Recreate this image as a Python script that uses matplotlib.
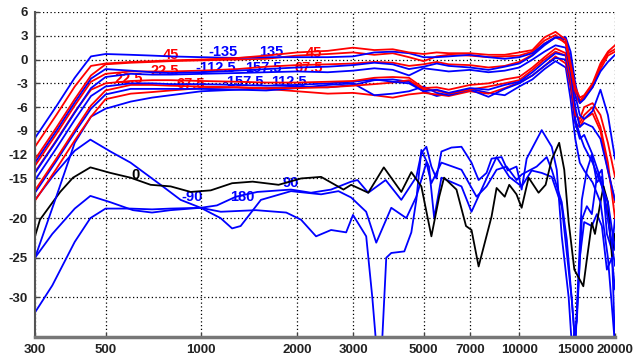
import matplotlib
matplotlib.use("Agg")
import matplotlib.pyplot as plt
from matplotlib.ticker import FixedLocator, NullLocator

plt.rcParams['font.family'] = ['Liberation Sans', 'DejaVu Sans']

# ---------------- data ----------------
F_TOP = [300, 350, 400, 450, 500, 600, 700, 800, 1000, 1300, 1600, 2000, 2500, 3000,
         3500, 4000, 4500, 5000, 5500, 6000, 7000, 8000, 9000, 10000, 11000, 12000,
         13000, 14000, 14500, 15000, 15500, 16000, 17000, 18000, 19000, 20000]

B1 = [-9.9, -5.9, -2.3, 0.4, 0.7, 0.6, 0.5, 0.4, 0.3, 0.2, 0.3, 0.3, 0.3, 0.4, 0.9, 1.0, 0.8, 0.3,
      0.3, 0.4, 0.6, 0.3, 0.1, 0.3, 0.8, 2.0, 2.8, 2.8, 1.0, -3.0, -5.5, -5.0, -3.5, -1.5, -0.3, 0.6]
R1 = [-11.0, -7.0, -3.4, -0.8, -0.5, -0.3, -0.2, -0.1, 0.0, 0.2, 0.5, 0.9, 1.1, 1.5, 1.2, 1.3, 0.9, 0.7,
      0.9, 0.8, 0.8, 0.6, 0.6, 0.9, 1.2, 2.8, 3.5, 2.5, -0.5, -3.5, -4.8, -4.5, -3.0, -0.5, 1.0, 1.8]
R2 = [-12.6, -8.6, -5.0, -2.0, -0.6, -0.4, -0.3, -0.2, -0.1, 0.0, 0.1, 0.5, 0.7, 0.9, 0.6, 0.8, 0.3, -0.2,
      0.4, 0.6, 0.5, 0.3, 0.4, 0.5, 1.0, 2.4, 3.1, 2.0, -1.0, -4.0, -5.2, -4.6, -3.2, -0.8, 0.8, 1.3]
B2 = [-13.0, -9.0, -5.4, -2.4, -1.2, -1.4, -1.6, -1.7, -1.6, -1.4, -1.2, -1.0, -0.9, -0.7, -0.4, -0.6, -1.2, -0.9,
      -0.5, -0.8, -1.0, -1.3, -0.9, -0.5, 0.5, 1.8, 2.8, 2.5, 0.0, -4.5, -7.0, -7.5, -6.5, -3.8, -7.0, -12.5]
R3 = [-13.4, -9.4, -5.8, -2.8, -1.8, -1.5, -1.5, -1.5, -1.4, -1.2, -0.9, -0.7, -0.6, -0.5, -0.3, -0.4, -0.8, -0.6,
      -0.3, -0.6, -0.7, -1.0, -0.8, -0.3, 0.6, 2.0, 2.8, 2.2, -0.5, -4.5, -5.5, -4.8, -3.5, -1.2, 0.5, 1.0]
B3 = [-14.3, -10.3, -6.7, -3.6, -2.2, -1.8, -1.9, -1.9, -1.8, -1.7, -1.6, -1.5, -1.6, -1.4, -1.1, -1.3, -2.0, -1.1,
      -1.3, -1.5, -1.3, -1.6, -1.4, -1.0, 0.0, 1.0, 1.8, 1.5, -1.5, -6.0, -8.5, -8.0, -8.5, -10.0, -14.0, -17.7]
R4 = [-14.2, -10.2, -6.6, -3.8, -3.0, -2.7, -2.6, -2.6, -2.7, -2.8, -2.9, -2.9, -2.8, -2.7, -2.3, -2.2, -2.3, -3.6,
      -3.5, -3.8, -3.2, -3.0, -2.5, -2.2, -1.0, 0.3, 1.4, 0.8, -2.5, -7.0, -7.5, -6.0, -5.5, -7.0, -10.5, -14.8]
B4 = [-15.2, -11.2, -7.6, -4.6, -3.4, -3.0, -3.0, -3.1, -3.1, -3.2, -3.3, -3.2, -3.0, -2.8, -2.5, -2.8, -3.0, -4.0,
      -3.8, -4.2, -3.6, -3.8, -3.2, -2.8, -1.6, -0.3, 0.8, 0.5, -2.5, -7.5, -9.5, -11.0, -13.0, -15.5, -18.0, -24.0]
R5 = [-16.5, -12.5, -8.9, -5.8, -3.9, -3.2, -3.2, -3.3, -3.4, -3.5, -3.6, -3.6, -3.5, -3.3, -3.1, -2.9, -2.6, -3.8,
      -3.9, -4.3, -3.8, -3.4, -3.0, -2.6, -1.3, 0.0, 1.0, 0.5, -2.0, -6.5, -8.0, -7.0, -6.0, -8.5, -13.0, -20.0]
B5 = [-16.8, -12.8, -9.2, -6.2, -4.4, -3.7, -3.7, -3.7, -3.7, -3.8, -3.9, -3.6, -3.2, -3.0, -4.5, -4.3, -4.0, -3.4,
      -4.2, -4.5, -3.8, -4.7, -3.7, -3.0, -2.0, -0.8, 0.2, 0.0, -3.0, -8.0, -10.0, -9.5, -12.0, -15.0, -20.0, -26.0]
R6 = [-17.8, -13.8, -10.2, -7.2, -5.0, -4.3, -4.1, -3.9, -3.6, -3.5, -3.7, -4.0, -4.3, -4.2, -4.5, -4.8, -4.4, -4.2,
      -4.4, -4.6, -4.0, -4.3, -3.6, -2.9, -2.0, -0.8, 0.4, -0.5, -3.5, -8.0, -8.5, -7.5, -6.8, -9.0, -14.0, -18.0]
B6 = [-25.0, -17.3, -10.5, -7.2, -6.2, -5.3, -4.8, -4.5, -4.0, -3.8, -3.6, -3.4, -3.5, -3.2, -2.6, -2.5, -2.8, -4.0,
      -4.6, -4.3, -3.7, -4.2, -4.5, -3.4, -2.5, -1.2, -0.2, -1.0, -5.0, -10.0, -13.0, -14.0, -15.5, -18.0, -25.0, -36.0]

# on-axis (0 deg)
F_BLACK = [300, 311, 360, 395, 448, 518, 599, 693, 801, 926, 1071, 1250, 1450, 1750, 2059, 2381, 2800,
           2960, 3350, 3750, 4256, 4577, 4921, 5292, 5600, 5800, 6346, 6800, 7076, 7450, 8182, 8485,
           9000, 9300, 9800, 10173, 10700, 11500, 12100, 12650, 13350, 13850, 14300, 14900, 15900,
           16300, 16913, 17300, 18000, 18400, 19000, 19557, 20000]
BLACK = [-22.3, -20.2, -16.7, -14.9, -13.6, -14.3, -14.9, -15.8, -16.0, -16.7, -16.5, -15.6, -15.4, -15.8,
         -15.0, -14.8, -16.4, -15.8, -16.8, -13.6, -16.7, -14.2, -16.0, -22.3, -17.3, -14.9, -16.4, -21.0,
         -21.5, -26.1, -19.8, -16.2, -17.3, -15.8, -17.0, -18.7, -14.9, -16.8, -15.8, -12.6, -10.5, -13.9,
         -20.5, -26.5, -28.6, -25.3, -20.6, -22.0, -18.0, -16.0, -18.0, -24.8, -22.0]

# low blue curves (-90, 90, 180)
F_L1 = [300, 340, 400, 448, 518, 599, 745, 861, 996, 1120, 1285, 1500, 1915, 2214, 2560, 2960, 3100,
        3350, 3800, 4256, 4746, 4921, 5103, 5292, 5488, 5691, 6119, 6580, 7076, 7450, 7890, 8182,
        8800, 9200, 9800, 10173, 10550, 11344, 11764, 12650, 13118, 13602, 14300, 14627, 15168,
        15729, 16311, 16913, 17539, 18187, 18860, 19557, 20000]
L1 = [-17.7, -14.8, -11.5, -10.1, -11.6, -13.0, -15.8, -17.7, -18.7, -18.4, -17.3, -16.7, -16.4, -16.8,
      -16.4, -15.4, -15.2, -16.8, -15.2, -17.7, -14.8, -11.8, -11.0, -13.5, -15.0, -11.6, -11.1, -11.0,
      -13.0, -15.2, -14.3, -12.5, -12.3, -14.0, -13.5, -16.4, -12.5, -10.1, -8.9, -11.0, -13.9, -22.3,
      -30.0, -36.0, -33.0, -20.2, -18.5, -19.5, -14.8, -13.9, -22.0, -24.0, -36.0]

F_L2 = [300, 340, 400, 448, 518, 610, 700, 800, 996, 1150, 1250, 1330, 1540, 1915, 2381, 2700, 2960,
        3300, 3550, 3958, 4414, 4746, 5103, 5292, 5691, 6580, 7338, 7890, 8485, 9124, 9811, 10173,
        11344, 12199, 12650, 13602, 14106, 14627, 15000, 15500, 16000, 16913, 17539, 18187, 18860,
        19557, 20000]
L2 = [-25.0, -22.0, -18.8, -17.2, -18.0, -19.0, -19.3, -19.0, -18.7, -20.0, -21.3, -21.0, -17.7, -16.6,
      -17.0, -16.6, -17.4, -19.2, -23.1, -18.7, -20.0, -17.3, -13.0, -15.6, -13.0, -13.9, -17.3, -16.0,
      -13.9, -13.5, -15.2, -14.5, -13.5, -12.3, -13.9, -18.0, -22.7, -30.3, -36.0, -25.0, -20.5, -21.0,
      -19.5, -21.0, -26.5, -25.0, -29.0]

F_L3 = [300, 340, 400, 448, 500, 600, 700, 800, 996, 1152, 1485, 1850, 2059, 2296, 2560, 2855, 3000,
        3301, 3450, 3550, 3700, 3817, 3958, 4350, 4577, 4746, 4921, 5200, 5400, 5691, 6580, 7076, 7890,
        8485, 9300, 10173, 10940, 11764, 12650, 13602, 14106, 14627, 15000, 15729, 16311, 16913, 17539,
        18187, 18860, 19557, 20000]
L3 = [-31.9, -28.5, -23.0, -20.0, -18.8, -18.8, -18.9, -18.8, -18.7, -19.2, -19.0, -19.3, -20.2, -22.3,
      -21.5, -21.8, -19.6, -22.3, -30.0, -36.0, -36.0, -25.0, -24.4, -24.2, -21.8, -17.7, -11.4, -13.5,
      -20.0, -14.9, -16.0, -19.2, -15.0, -12.3, -14.8, -16.0, -14.0, -14.3, -14.8, -18.5, -24.4, -30.3,
      -36.0, -17.7, -14.0, -12.0, -15.5, -14.8, -19.0, -24.0, -20.0]

X_TICKS = [300, 500, 1000, 2000, 3000, 5000, 7000, 10000, 15000, 20000]
Y_TICKS = [6, 3, 0, -3, -6, -9, -12, -15, -20, -25, -30]

LABELS = [  # text, freq, dB, color
    ("45", 801, 0.6, "red"), ("22.5", 765, -1.4, "red"), ("22.5", 590, -2.4, "red"),
    ("67.5", 926, -3.1, "red"), ("45", 2255, 0.8, "red"), ("67.5", 2180, -1.1, "red"),
    ("-135", 1170, 1.0, "blue"), ("135", 1656, 1.0, "blue"),
    ("-112.5", 1111, -1.1, "blue"), ("157.5", 1570, -1.1, "blue"),
    ("-157.5", 1350, -2.8, "blue"), ("112.5", 1880, -2.8, "blue"),
    ("0", 620, -14.6, "black"), ("-90", 936, -17.3, "blue"),
    ("180", 1345, -17.3, "blue"), ("90", 1915, -15.6, "blue"),
]

# ---------------- plot ----------------
fig = plt.figure(figsize=(6.33, 3.61), dpi=100)
ax = fig.add_axes([35 / 633, 1 - 337 / 361, 580 / 633, 325 / 361])

lw = 1.3
ax.plot(F_L3, L3, color="blue", lw=lw)
ax.plot(F_L2, L2, color="blue", lw=lw)
ax.plot(F_L1, L1, color="blue", lw=lw)
ax.plot(F_BLACK, BLACK, color="black", lw=lw)
for curve, col in [(B6, "blue"), (R6, "red"), (B5, "blue"), (R5, "red"), (B4, "blue"),
                   (R4, "red"), (B3, "blue"), (R3, "red"), (B2, "blue"), (R2, "red"),
                   (B1, "blue"), (R1, "red")]:
    ax.plot(F_TOP, curve, color=col, lw=lw)

for txt, f, v, col in LABELS:
    ax.text(f, v, txt, color=col, fontsize=10.5, fontweight="bold",
            ha="center", va="center", zorder=1.5)

ax.set_xscale("log")
ax.set_xlim(300, 20000)
ax.set_ylim(-35, 6)
ax.xaxis.set_major_locator(FixedLocator(X_TICKS))
ax.xaxis.set_minor_locator(NullLocator())
ax.set_xticklabels([str(t) for t in X_TICKS])
ax.set_yticks(Y_TICKS)
ax.set_yticklabels([str(t) for t in Y_TICKS])
for lab in ax.get_xticklabels() + ax.get_yticklabels():
    lab.set_fontweight("bold")
    lab.set_fontsize(9.5)
    lab.set_color("#222222")

ax.grid(True, which="major", color="black", linestyle=(0, (1, 2)), linewidth=0.9)
ax.tick_params(direction="in", length=3, width=1, color="#444444", pad=5)
for s in ("top", "right"):
    ax.spines[s].set_visible(False)
ax.spines["left"].set_color("#555555")
ax.spines["left"].set_linewidth(1.5)
ax.spines["bottom"].set_color("#777777")
ax.spines["bottom"].set_linewidth(2.5)

fig.savefig("out.png", dpi=100)
